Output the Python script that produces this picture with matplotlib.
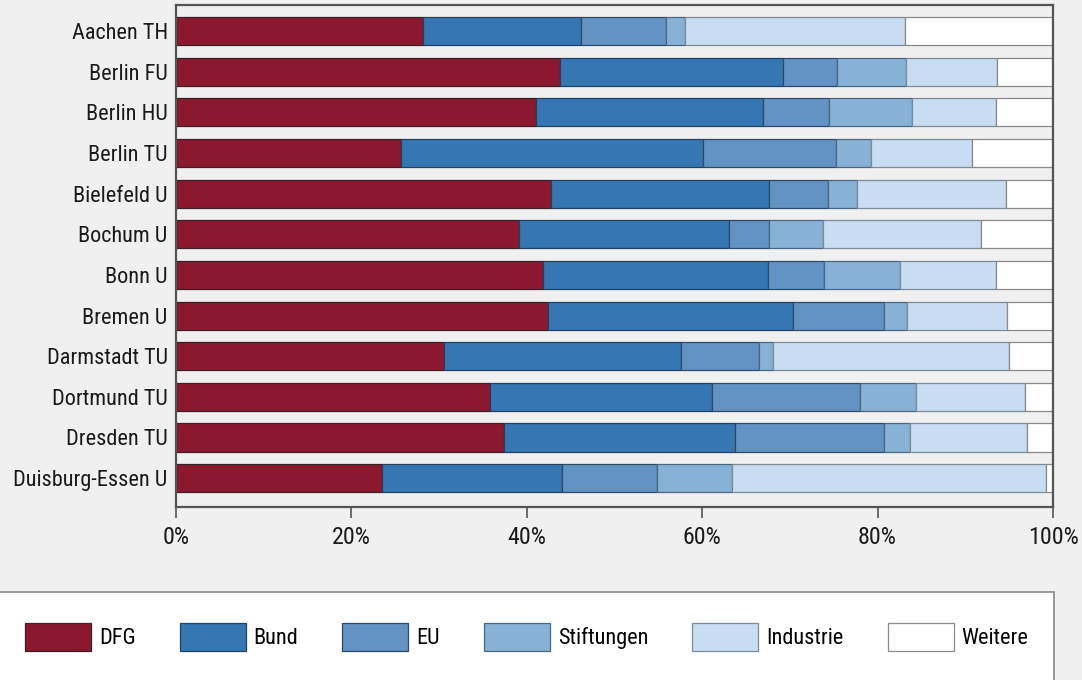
import matplotlib
matplotlib.use("Agg")
import matplotlib.pyplot as plt
from matplotlib.patches import Rectangle
from matplotlib import font_manager
from matplotlib.textpath import TextPath
from matplotlib.font_manager import FontProperties

universities = ["Aachen TH", "Berlin FU", "Berlin HU", "Berlin TU", "Bielefeld U",
                "Bochum U", "Bonn U", "Bremen U", "Darmstadt TU", "Dortmund TU",
                "Dresden TU", "Duisburg-Essen U"]
series_names = ["DFG", "Bund", "EU", "Stiftungen", "Industrie", "Weitere"]

dfg        = [28.2, 43.8, 41.1, 25.7, 42.8, 39.1, 41.9, 42.4, 30.6, 35.8, 37.4, 23.5]
bund       = [18.0, 25.4, 25.8, 34.4, 24.8, 24.0, 25.6, 28.0, 27.0, 25.3, 26.3, 20.5]
eu         = [9.7, 6.2, 7.6, 15.1, 6.8, 4.5, 6.4, 10.3, 8.9, 16.9, 17.0, 10.9]
stiftungen = [2.1, 7.8, 9.4, 4.0, 3.3, 6.2, 8.7, 2.6, 1.6, 6.4, 3.0, 8.5]
industrie  = [25.1, 10.4, 9.6, 11.6, 16.9, 18.0, 10.9, 11.5, 26.9, 12.4, 13.3, 35.8]
weitere    = [16.9, 6.4, 6.5, 9.2, 5.4, 8.2, 6.5, 5.2, 5.0, 3.2, 3.0, 0.8]

tick_values = [0, 20, 40, 60, 80, 100]
tick_labels = ["0%", "20%", "40%", "60%", "80%", "100%"]

colors = ["#8c1830", "#3577b3", "#6293c3", "#87b2d5", "#c9ddf2", "#ffffff"]
edges = ["#3a2028", "#23405e", "#2f4a66", "#4a6680", "#7d8a96", "#8a8a8a"]

# pick a condensed sans if one is installed
entries = font_manager.fontManager.ttflist
names = {f.name for f in entries}
chosen = None
for cand in ["Liberation Sans Narrow", "Roboto Condensed", "Open Sans Condensed",
             "Noto Sans Condensed", "Noto Sans Display Condensed", "DejaVu Sans Condensed"]:
    if cand in names:
        chosen = cand
        break
if chosen is None:
    for f in entries:
        st = str(f.stretch).lower()
        if (("condensed" in st or "narrow" in f.name.lower() or "condensed" in f.name.lower())
                and f.style == "normal" and f.weight in (400, "normal", "regular")
                and "semi" not in st and "extra" not in st and "ultra" not in st):
            chosen = f.name
            break
if chosen is None:
    chosen = "Liberation Sans" if "Liberation Sans" in names else "DejaVu Sans"
plt.rcParams["font.family"] = [chosen, "DejaVu Sans"]

# fit the font size so that the longest label is about as wide as in the reference
fs = 16.0
tp = TextPath((0, 0), "Duisburg-Essen U", size=fs * 100 / 72, prop=FontProperties(family=[chosen]))
w = tp.get_extents().width
if w > 156:
    fs = fs * 156 / w

fig = plt.figure(figsize=(10.82, 6.8), dpi=100, facecolor="#f0f0f0")
ax = fig.add_axes([176 / 1082, 1 - 507 / 680, (1053 - 176) / 1082, (507 - 5) / 680])
ax.set_facecolor("#f0f0f0")

data = [dfg, bund, eu, stiftungen, industrie, weitere]
y = list(range(len(universities)))
left = [0.0] * len(universities)
handles = []
for name, vals, c, ec in zip(series_names, data, colors, edges):
    b = ax.barh(y, vals, left=left, height=0.69, color=c, edgecolor=ec,
                linewidth=0.9, label=name)
    handles.append(b)
    left = [l + v for l, v in zip(left, vals)]

ax.set_xlim(0, 100)
ax.set_ylim(11.71, -0.64)
ax.set_yticks(y)
ax.set_yticklabels(universities, fontsize=fs, color="#1a1a1a")
ax.set_xticks(tick_values)
ax.set_xticklabels(tick_labels, fontsize=fs * 1.08, color="#1a1a1a")
ax.tick_params(axis="y", length=0, pad=6)
ax.tick_params(axis="x", length=8, width=1.2, color="#555555", pad=6)
for s in ax.spines.values():
    s.set_color("#555555")
    s.set_linewidth(1.6)

# legend box
fig.patches.append(Rectangle((-0.01, -0.02), 1054 / 1082 + 0.01, 1 - 592 / 680 + 0.02,
                             transform=fig.transFigure, facecolor="white",
                             edgecolor="#888888", linewidth=1.2, zorder=0))
px = fs * 100 / 72
leg = fig.legend(handles=handles, labels=series_names, loc="center left",
                 bbox_to_anchor=(25 / 1082, 1 - 637 / 680), ncol=6, frameon=False,
                 fontsize=fs, handlelength=66 / px, handleheight=35 / px,
                 handletextpad=8 / px, columnspacing=44 / px, borderpad=0,
                 borderaxespad=0)

fig.savefig("out.png", dpi=100, facecolor=fig.get_facecolor())
